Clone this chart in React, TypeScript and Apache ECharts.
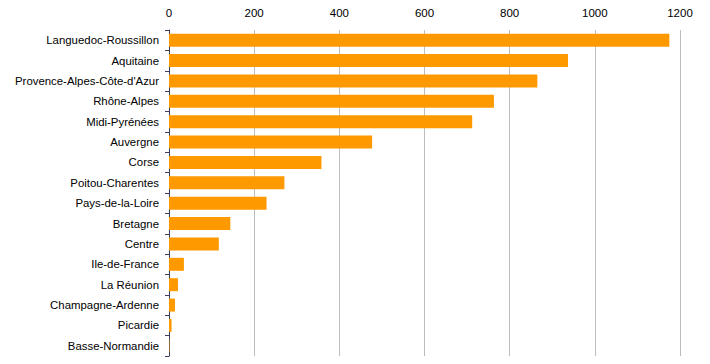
import React, { useEffect, useRef } from "react";
import * as echarts from "echarts";

const regions = [
  "Languedoc-Roussillon",
  "Aquitaine",
  "Provence-Alpes-Côte-d'Azur",
  "Rhône-Alpes",
  "Midi-Pyrénées",
  "Auvergne",
  "Corse",
  "Poitou-Charentes",
  "Pays-de-la-Loire",
  "Bretagne",
  "Centre",
  "Ile-de-France",
  "La Réunion",
  "Champagne-Ardenne",
  "Picardie",
  "Basse-Normandie",
];
const values = [1175, 937, 865, 763, 712, 477, 358, 271, 229, 144, 117, 35, 21, 14, 6, 1];

export default function App() {
  const ref = useRef<HTMLDivElement>(null);
  useEffect(() => {
    const chart = echarts.init(ref.current!, null, { renderer: "svg" });
    chart.setOption({
      animation: false,
      grid: { left: 169, right: 30, top: 30, bottom: 8, containLabel: false },
      xAxis: {
        type: "value",
        position: "top",
        min: 0,
        max: 1200,
        interval: 200,
        axisLine: { show: false },
        axisTick: { show: false },
        axisLabel: {
          color: "#000",
          fontFamily: "Liberation Sans, Arial, sans-serif",
          fontSize: 11.5,
          margin: 11,
          formatter: (v: number) => String(v),
        },
        splitLine: { lineStyle: { color: "#bdbdbd", width: 1 } },
      },
      yAxis: {
        type: "category",
        data: regions,
        inverse: true,
        axisLine: { show: true, lineStyle: { color: "#3a3f5c", width: 1 } },
        axisTick: { show: true, length: 4, lineStyle: { color: "#3a3f5c" } },
        axisLabel: {
          color: "#000",
          fontFamily: "Liberation Sans, Arial, sans-serif",
          fontSize: 11.4,
          margin: 10,
        },
        splitLine: { show: false },
      },
      series: [
        {
          type: "bar",
          data: values,
          barWidth: 13,
          itemStyle: { color: "#ff9900" },
        },
      ],
    });
    return () => chart.dispose();
  }, []);
  return <div ref={ref} style={{ width: 710, height: 364, position: "absolute", left: 0, top: 0 }} />;
}
